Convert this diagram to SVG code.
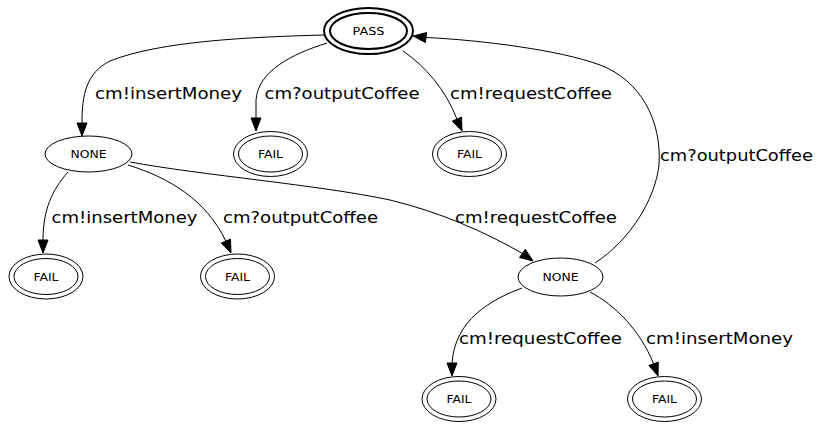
<svg xmlns="http://www.w3.org/2000/svg" width="817" height="425" viewBox="0 0 817 425">
  <style>
    .node ellipse { fill: none; stroke: #000; stroke-width: 1; }
    .start ellipse { stroke-width: 2; }
    .node text { font-family: "DejaVu Sans", sans-serif; font-size: 10.5px; text-anchor: middle; fill: #000; }
    .edge path { fill: none; stroke: #000; stroke-width: 1; }
    .edge polygon { fill: #000; stroke: #000; stroke-width: 1; }
    .edge text { font-family: "DejaVu Sans", sans-serif; font-size: 15px; text-anchor: middle; fill: #000; }
  </style>
  <rect width="817" height="425" fill="#fff"/>

  <!-- transitions -->
  <g id="edges">
    <g class="edge" id="e_pass_none1">
      <path d="M324,35 C250,37 160,41 110,61 C86,73 82,95 82,123"/>
      <polygon points="82,136 77,123 87,123"/>
      <text x="168.5" y="99" textLength="147" lengthAdjust="spacingAndGlyphs">cm!insertMoney</text>
    </g>
    <g class="edge" id="e_pass_fail1">
      <path d="M327,43 C292,54 258,71 256,100 L256,118"/>
      <polygon points="256,131 251,118 261,118"/>
      <text x="342" y="99" textLength="155" lengthAdjust="spacingAndGlyphs">cm?outputCoffee</text>
    </g>
    <g class="edge" id="e_pass_fail2">
      <path d="M403,51 C425,66 446,90 456.9,119.1"/>
      <polygon points="462,131 461.5,117.1 452.3,121.1"/>
      <text x="531" y="99" textLength="162" lengthAdjust="spacingAndGlyphs">cm!requestCoffee</text>
    </g>
    <g class="edge" id="e_none1_fail3">
      <path d="M68,172 C52,190 43,210 43,240"/>
      <polygon points="43,253 38,240 48,240"/>
      <text x="124.5" y="223" textLength="146" lengthAdjust="spacingAndGlyphs">cm!insertMoney</text>
    </g>
    <g class="edge" id="e_none1_fail4">
      <path d="M128,165 C170,178 206,200 225.9,241.1"/>
      <polygon points="231,253 230.5,239.1 221.3,243.1"/>
      <text x="300.5" y="223" textLength="155" lengthAdjust="spacingAndGlyphs">cm?outputCoffee</text>
    </g>
    <g class="edge" id="e_none1_none2">
      <path d="M130,162 C200,175 320,185 390,200 C440,212 485,232 522.4,253.4"/>
      <polygon points="533,261 519.5,257.5 525.3,249.3"/>
      <text x="536" y="223" textLength="162" lengthAdjust="spacingAndGlyphs">cm!requestCoffee</text>
    </g>
    <g class="edge" id="e_none2_pass">
      <path d="M595,263 C630,240 655,200 659,165 C662,120 640,80 600,65 C560,50 480,40 426,37.5"/>
      <polygon points="413,36 426.6,32.6 425.4,42.5"/>
      <text x="736.5" y="161" textLength="153" lengthAdjust="spacingAndGlyphs">cm?outputCoffee</text>
    </g>
    <g class="edge" id="e_none2_fail5">
      <path d="M522,288 C490,300 455,320 452,363"/>
      <polygon points="452,376 447,363 457,363"/>
      <text x="540.5" y="344" textLength="163" lengthAdjust="spacingAndGlyphs">cm!requestCoffee</text>
    </g>
    <g class="edge" id="e_none2_fail6">
      <path d="M590,292 C615,305 640,330 653.6,363.8"/>
      <polygon points="658,376 658.3,362.1 648.9,365.5"/>
      <text x="719.5" y="344" textLength="147" lengthAdjust="spacingAndGlyphs">cm!insertMoney</text>
    </g>
  </g>

  <!-- states -->
  <g id="pass" class="node start">
    <ellipse cx="368.5" cy="31" rx="44.5" ry="23"/>
    <ellipse cx="368.5" cy="31" rx="38.5" ry="18"/>
    <text x="368.5" y="35" textLength="32" lengthAdjust="spacingAndGlyphs">PASS</text>
  </g>
  <g id="none1" class="node">
    <ellipse cx="88.5" cy="154" rx="43.5" ry="18"/>
    <text x="88.5" y="158" textLength="36" lengthAdjust="spacingAndGlyphs">NONE</text>
  </g>
  <g id="fail1" class="node">
    <ellipse cx="270.5" cy="154" rx="37" ry="22.5"/>
    <ellipse cx="270.5" cy="154" rx="32" ry="18"/>
    <text x="270.5" y="158" textLength="25" lengthAdjust="spacingAndGlyphs">FAIL</text>
  </g>
  <g id="fail2" class="node">
    <ellipse cx="469.5" cy="154" rx="37" ry="22.5"/>
    <ellipse cx="469.5" cy="154" rx="32" ry="18"/>
    <text x="469.5" y="158" textLength="25" lengthAdjust="spacingAndGlyphs">FAIL</text>
  </g>
  <g id="fail3" class="node">
    <ellipse cx="46" cy="276.5" rx="37" ry="22.5"/>
    <ellipse cx="46" cy="276.5" rx="32" ry="18"/>
    <text x="46" y="280.5" textLength="25" lengthAdjust="spacingAndGlyphs">FAIL</text>
  </g>
  <g id="fail4" class="node">
    <ellipse cx="237.5" cy="276.5" rx="37" ry="22.5"/>
    <ellipse cx="237.5" cy="276.5" rx="32" ry="18"/>
    <text x="237.5" y="280.5" textLength="25" lengthAdjust="spacingAndGlyphs">FAIL</text>
  </g>
  <g id="none2" class="node">
    <ellipse cx="560.5" cy="277" rx="42.5" ry="19"/>
    <text x="560.5" y="281" textLength="36" lengthAdjust="spacingAndGlyphs">NONE</text>
  </g>
  <g id="fail5" class="node">
    <ellipse cx="459" cy="399" rx="37" ry="22.5"/>
    <ellipse cx="459" cy="399" rx="32" ry="18"/>
    <text x="459" y="403" textLength="25" lengthAdjust="spacingAndGlyphs">FAIL</text>
  </g>
  <g id="fail6" class="node">
    <ellipse cx="664.5" cy="399" rx="37" ry="22.5"/>
    <ellipse cx="664.5" cy="399" rx="32" ry="18"/>
    <text x="664.5" y="403" textLength="25" lengthAdjust="spacingAndGlyphs">FAIL</text>
  </g>
</svg>
